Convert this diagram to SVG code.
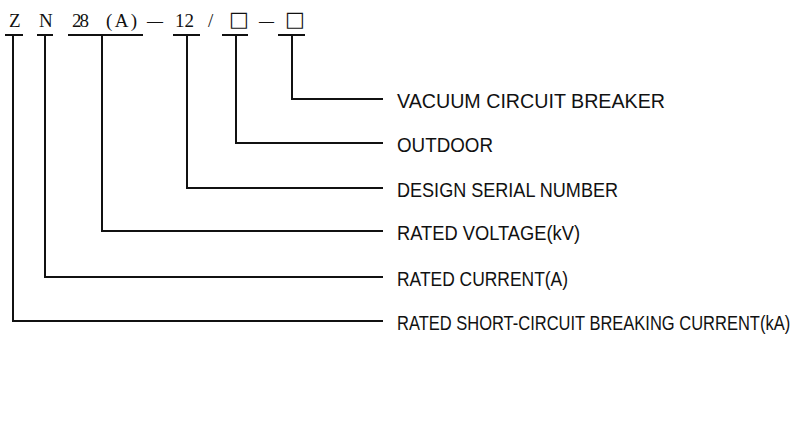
<svg xmlns="http://www.w3.org/2000/svg" width="800" height="422" viewBox="0 0 800 422">
<style>
.code{font-family:"Liberation Serif","DejaVu Serif",serif;font-size:19px;fill:#111}
.box{font-family:"DejaVu Sans",sans-serif;font-size:21px;fill:#111}
.lbl{font-family:"Liberation Sans","Arial",sans-serif;font-size:20px;fill:#111}
.ln{stroke:#111;stroke-width:2;fill:none}
</style>
<rect width="800" height="422" fill="#fff"/>
<g id="code">
<text class="code" x="9" y="27">Z</text>
<text class="code" x="39" y="27">N</text>
<text class="code" x="72" y="27" textLength="17" lengthAdjust="spacing">28</text>
<text class="code" x="106" y="27" textLength="31" lengthAdjust="spacing">(A)</text>
<text class="code" x="147" y="27" textLength="16" lengthAdjust="spacingAndGlyphs">—</text>
<text class="code" x="175" y="27" textLength="19" lengthAdjust="spacing">12</text>
<text class="code" x="208" y="27">/</text>
<text class="box" x="229" y="26">□</text>
<text class="code" x="259" y="27" textLength="15" lengthAdjust="spacingAndGlyphs">—</text>
<text class="box" x="285" y="26">□</text>
</g>
<g id="connectors">
<path class="ln" d="M5 35H23M13 35V321H383"/>
<path class="ln" d="M37 35H53M45 35V277H383"/>
<path class="ln" d="M68 35H143M102 35V231H383"/>
<path class="ln" d="M173 35H200M187 35V188H383"/>
<path class="ln" d="M222 35H248M236 35V143H383"/>
<path class="ln" d="M278 35H305M292 35V99H383"/>
</g>
<g id="n-vacuum"><text class="lbl" x="397" y="108" textLength="268" lengthAdjust="spacingAndGlyphs">VACUUM CIRCUIT BREAKER</text></g>
<g id="n-outdoor"><text class="lbl" x="397" y="152" textLength="96" lengthAdjust="spacingAndGlyphs">OUTDOOR</text></g>
<g id="n-design"><text class="lbl" x="397" y="197" textLength="221" lengthAdjust="spacingAndGlyphs">DESIGN SERIAL NUMBER</text></g>
<g id="n-voltage"><text class="lbl" x="397" y="240" textLength="183" lengthAdjust="spacingAndGlyphs">RATED VOLTAGE(kV)</text></g>
<g id="n-current"><text class="lbl" x="397" y="286" textLength="171" lengthAdjust="spacingAndGlyphs">RATED CURRENT(A)</text></g>
<g id="n-short"><text class="lbl" transform="translate(397 330) scale(0.825 1)" x="0" y="0">RATED SHORT-CIRCUIT BREAKING CURRENT(kA)</text></g>
</svg>
